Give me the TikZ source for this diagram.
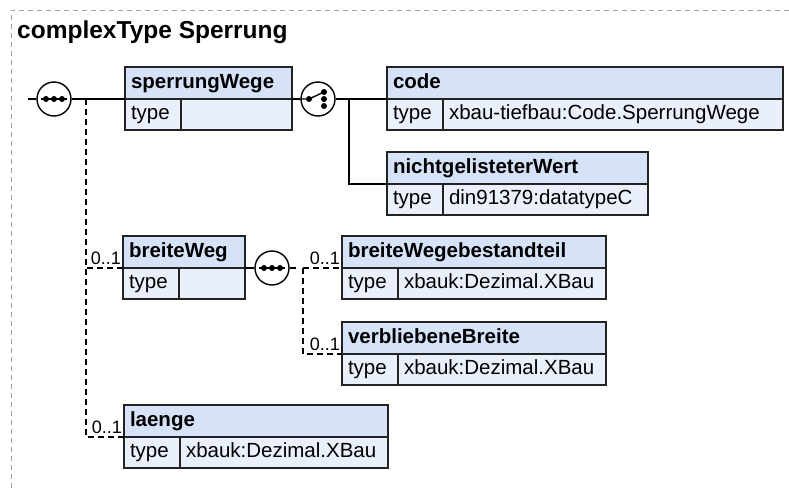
\documentclass[tikz,border=0pt]{standalone}
\usepackage{fontspec}
\setmainfont{Liberation Sans}
\usetikzlibrary{positioning,calc}
\definecolor{hdrblue}{RGB}{213,226,247}
\definecolor{rowblue}{RGB}{234,240,251}
\definecolor{framegray}{RGB}{160,160,160}
\definecolor{linedark}{RGB}{35,35,35}
\newcommand{\boxfont}{\fontsize{20.5pt}{24pt}\selectfont}
\newcommand{\lblfont}{\fontsize{18pt}{22pt}\selectfont}
\newcommand{\titlefont}{\fontsize{24.5pt}{29pt}\selectfont}

\tikzset{
  hdr/.style={draw=linedark, line width=1.4pt, fill=hdrblue, anchor=north west,
    minimum height=32pt, inner xsep=6pt, inner ysep=0pt, outer sep=0pt,
    text height=15pt, text depth=4.5pt, align=left, font=\boxfont\bfseries},
  typecell/.style={draw=linedark, line width=1.4pt, fill=rowblue, anchor=north west,
    text width=44pt, minimum height=31pt, inner xsep=6pt, inner ysep=0pt,
    outer sep=0pt, text height=15pt, text depth=4.5pt, align=left, font=\boxfont},
  valcell/.style={draw=linedark, line width=1.4pt, fill=rowblue, anchor=north west,
    minimum height=31pt, inner xsep=6pt, inner ysep=0pt, outer sep=0pt,
    text height=15pt, text depth=4.5pt, align=left, font=\boxfont},
  compositor/.style={circle, draw=black, line width=1.4pt, fill=white,
    minimum size=34pt, inner sep=0pt},
  conn/.style={line width=1.4pt},
  optconn/.style={line width=1.4pt, dash pattern=on 6pt off 4pt},
  occurs/.style={anchor=base east, font=\lblfont, inner sep=1pt}
}

% element box: name, x, y, width, label, type
\newcommand{\xsdelem}[6]{%
  \pgfmathsetlengthmacro{\hdrw}{#4pt-12pt}%
  \pgfmathsetlengthmacro{\valw}{#4pt-68pt}%
  \node[hdr, text width=\hdrw] (#1) at (#2,#3) {#5};
  \node[typecell] (#1-t) at (#1.south west) {type};
  \node[valcell, text width=\valw] (#1-v) at (#1-t.north east) {#6};
}

\begin{document}
\begin{tikzpicture}[x=1pt, y=-1pt]
  \useasboundingbox (0,0) rectangle (789,488);

  % outer frame and title
  \draw[framegray, line width=1pt, dash pattern=on 5pt off 4pt]
    (11,488) -- (11,10) -- (789,10);
  \node[font=\titlefont\bfseries, anchor=base west, inner sep=0pt] (title)
    at (17,38) {complexType Sperrung};

  % elements
  \xsdelem{sperrungWege}{125}{67}{167}{sperrungWege}{}
  \xsdelem{code}{387}{67}{396}{code}{xbau-tiefbau:Code.SperrungWege}
  \xsdelem{nichtgelisteterWert}{387}{152}{261}{nichtgelisteterWert}{din91379:datatypeC}
  \xsdelem{breiteWeg}{123}{236}{122}{breiteWeg}{}
  \xsdelem{breiteWegebestandteil}{342}{236}{264}{breiteWegebestandteil}{xbauk:Dezimal.XBau}
  \xsdelem{verbliebeneBreite}{342}{322}{264}{verbliebeneBreite}{xbauk:Dezimal.XBau}
  \xsdelem{laenge}{124}{405}{264}{laenge}{xbauk:Dezimal.XBau}

  % compositors
  \node[compositor] (seqMain) at (54,99) {};
  \node[compositor] (choiceWege) at (318,99) {};
  \node[compositor] (seqBreite) at (272,268) {};

  \foreach \c in {seqMain,seqBreite}{
    \draw[conn] ([xshift=-13pt]\c.center) -- ([xshift=13pt]\c.center);
    \foreach \dx in {-8,0,8}
      \fill ([xshift=\dx pt]\c.center) circle (3pt);
  }
  \draw[conn] (choiceWege.west) -- ([xshift=-9pt]choiceWege.center)
    -- ([shift={(6pt,7pt)}]choiceWege.center);
  \foreach \dx/\dy in {-9/0, 6/7, 6/0, 6/-7}
    \fill ([shift={(\dx pt,\dy pt)}]choiceWege.center) circle (3pt);

  % connectors
  \coordinate (entry) at (28,99);
  \coordinate (spine) at (86,99);
  \coordinate (fork) at (349,99);
  \coordinate (stub) at (296,268);
  \coordinate (subspine) at (303,268);

  \draw[conn] (entry) -- (seqMain.west);
  \draw[conn] (seqMain.east) -- (sperrungWege.south west);
  \draw[conn] (sperrungWege.south east) -- (choiceWege.west);
  \draw[conn] (choiceWege.east) -- (fork) -- (code.south west);
  \draw[conn] (fork) |- (nichtgelisteterWert.south west);
  \draw[optconn] (spine) |- (breiteWeg.south west);
  \draw[optconn] (spine) |- (laenge.south west);
  \draw[conn] (breiteWeg.south east) -- (seqBreite.west);
  \draw[conn] (seqBreite.east) -- (stub);
  \draw[optconn] (subspine) -- (breiteWegebestandteil.south west);
  \draw[optconn] (subspine) |- (verbliebeneBreite.south west);

  % occurrences
  \foreach \e in {breiteWeg,breiteWegebestandteil,verbliebeneBreite,laenge}
    \node[occurs] (\e-occ) at ([shift={(-1pt,4pt)}]\e.south west) {0..1};
\end{tikzpicture}
\end{document}
